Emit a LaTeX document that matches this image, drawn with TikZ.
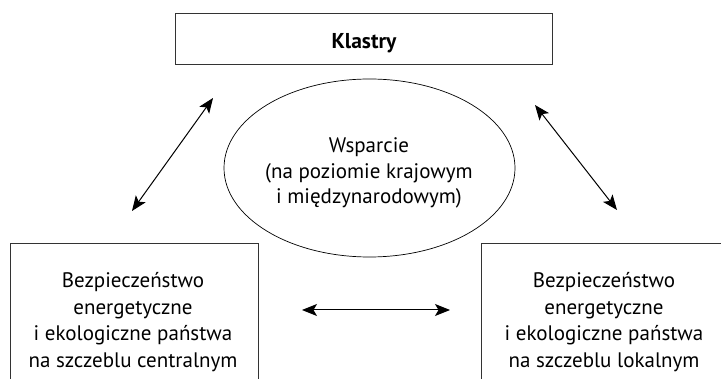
\documentclass[tikz,border=0pt]{standalone}
\usepackage{fontspec}
\setmainfont{PT Sans}
\usetikzlibrary{shapes.geometric,arrows.meta}
\tikzset{
  boxshape/.style={draw=black!80,line width=0.9pt,rectangle,inner sep=0pt},
  ovalshape/.style={draw=black,line width=0.7pt,ellipse,inner sep=0pt,minimum width=291pt,minimum height=178pt},
  bodytext/.style={align=center,inner sep=0pt,font=\fontsize{21}{26.7}\selectfont},
  headtext/.style={inner sep=0pt,font=\fontsize{21.5}{25}\selectfont\bfseries},
  dblarrow/.style={line width=1pt,{Stealth[length=15pt,width=12pt,inset=3.5pt]}-{Stealth[length=15pt,width=12pt,inset=3.5pt]}}
}
\begin{document}
\begin{tikzpicture}[x=1pt,y=-1pt]
\useasboundingbox (0,0) rectangle (721,379);
% top box
\node[boxshape,minimum width=377pt,minimum height=51pt] (klastry) at (363.5,38.5) {};
\node[headtext,anchor=base] (klastrytext) at (364,49) {Klastry};
% ellipse
\node[ovalshape] (wsparcie) at (369.5,168) {};
\node[bodytext,font=\fontsize{21}{25.5}\selectfont] (wsparcietext) at (369,173) {Wsparcie\\(na poziomie krajowym\\i międzynarodowym)};
% bottom boxes
\node[boxshape,minimum width=248pt,minimum height=160pt] (lbox) at (134,323) {};
\node[bodytext] (lboxtext) at (133,322) {Bezpieczeństwo\\energetyczne\\i ekologiczne państwa\\na szczeblu centralnym};
\node[boxshape,minimum width=248pt,minimum height=160pt] (rbox) at (605,323) {};
\node[bodytext] (rboxtext) at (604,322) {Bezpieczeństwo\\energetyczne\\i ekologiczne państwa\\na szczeblu lokalnym};
% arrow ends
\coordinate (la1) at (132,211);
\coordinate (la2) at (213,98);
\coordinate (ra1) at (535,105);
\coordinate (ra2) at (617,210);
\coordinate (ha1) at (302,310);
\coordinate (ha2) at (450,310);
\draw[dblarrow] (la1) -- (la2);
\draw[dblarrow] (ra1) -- (ra2);
\draw[dblarrow] (ha1) -- (ha2);
\end{tikzpicture}
\end{document}
